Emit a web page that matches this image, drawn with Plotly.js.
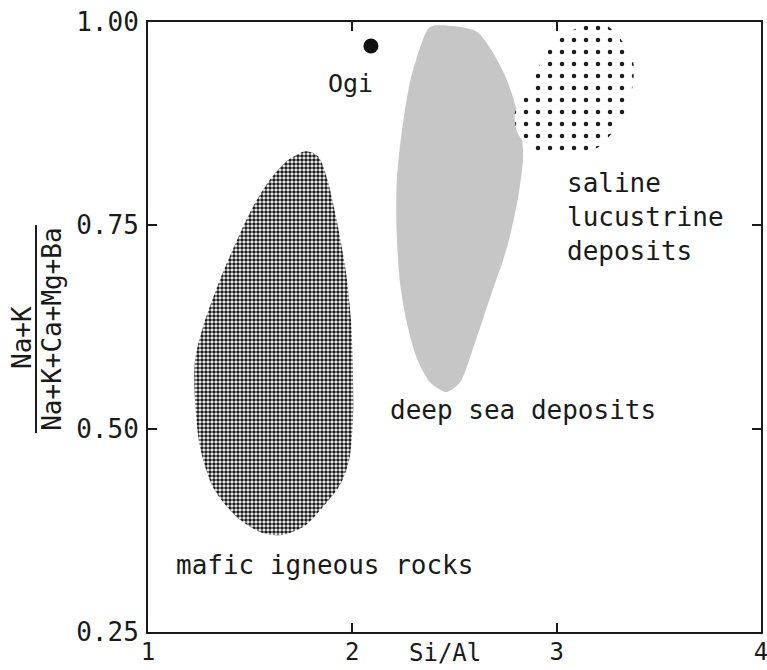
<!DOCTYPE html>
<html>
<head>
<meta charset="utf-8">
<script src="https://cdn.plot.ly/plotly-3.0.1.min.js"></script>
<style>html,body{margin:0;padding:0;background:#fff;}#chart{width:767px;height:670px;}</style>
</head>
<body>
<div id="chart"></div>
<script>
// Region outlines (Si/Al, (Na+K)/(Na+K+Ca+Mg+Ba))
var maficX = [1.773,1.832,1.876,1.925,1.969,1.994,2.003,2.003,1.984,1.940,1.857,1.759,1.646,1.548,1.436,1.318,1.255,1.230,1.230,1.269,1.352,1.436,1.514,1.597,1.680];
var maficY = [0.841,0.835,0.808,0.754,0.692,0.631,0.570,0.511,0.461,0.431,0.404,0.379,0.369,0.373,0.391,0.428,0.477,0.535,0.584,0.625,0.683,0.732,0.773,0.806,0.829];

var deepX = [2.380,2.493,2.609,2.674,2.738,2.787,2.821,2.836,2.811,2.756,2.674,2.591,2.527,2.462,2.429,2.380,2.315,2.266,2.233,2.217,2.217,2.242,2.282,2.331];
var deepY = [0.994,0.995,0.988,0.968,0.939,0.907,0.873,0.836,0.784,0.722,0.661,0.599,0.557,0.545,0.548,0.557,0.587,0.631,0.680,0.742,0.803,0.865,0.926,0.968];

var salineX = [3.115,3.188,3.247,3.310,3.374,3.374,3.345,3.276,3.198,3.129,3.051,2.953,2.870,2.806,2.796,2.836,2.884,2.933,2.982,3.051];
var salineY = [0.994,0.996,0.995,0.980,0.951,0.926,0.894,0.865,0.845,0.839,0.834,0.836,0.845,0.865,0.889,0.907,0.926,0.956,0.972,0.986];

var ogiX = [2.091];
var ogiY = [0.9705];

var xTicks = [1, 2, 3, 4];
var yTicks = [0.25, 0.50, 0.75, 1.00];
var yTickLabels = ["0.25", "0.50", "0.75", "1.00"];

var FONT = "DejaVu Sans Mono, monospace";
var INK = "#1a1a1a";

function closed(a){ return a.concat([a[0]]); }

var traces = [
  {
    x: closed(maficX), y: closed(maficY), type: "scatter", mode: "lines",
    fill: "toself", line: {width: 0, color: INK, shape: "spline", smoothing: 0.8},
    fillcolor: "rgba(0,0,0,0)",
    fillpattern: {shape: ".", size: 4, solidity: 0.62, fgcolor: "#1c1c1c", bgcolor: "#ffffff"},
    hoverinfo: "skip", showlegend: false
  },
  {
    x: closed(deepX), y: closed(deepY), type: "scatter", mode: "lines",
    fill: "toself", line: {width: 0, color: "#c4c4c4", shape: "spline", smoothing: 0.8},
    fillcolor: "#c6c6c6",
    hoverinfo: "skip", showlegend: false
  },
  {
    x: closed(salineX), y: closed(salineY), type: "scatter", mode: "lines",
    fill: "toself", line: {width: 0, color: INK, shape: "spline", smoothing: 0.8},
    fillcolor: "rgba(0,0,0,0)",
    fillpattern: {shape: ".", size: 12, solidity: 0.11, fgcolor: "#1c1c1c", bgcolor: "#ffffff"},
    hoverinfo: "skip", showlegend: false
  },
  {
    x: ogiX, y: ogiY, type: "scatter", mode: "markers",
    marker: {size: 15, color: "#111"},
    hoverinfo: "skip", showlegend: false
  }
];

var layout = {
  width: 767, height: 670,
  margin: {l: 148, r: 6, t: 22, b: 38},
  paper_bgcolor: "#ffffff", plot_bgcolor: "#ffffff",
  font: {family: FONT, size: 26, color: INK},
  showlegend: false,
  xaxis: {
    range: [1, 4], tickvals: xTicks, ticktext: xTicks.map(String),
    showgrid: false, zeroline: false,
    showline: true, linecolor: INK, linewidth: 2, mirror: "ticks",
    ticks: "inside", ticklen: 9, tickwidth: 2, tickcolor: INK,
    ticklabelstandoff: -3, ticklabeloverflow: "allow",
    tickfont: {family: FONT, size: 24, color: INK}
  },
  yaxis: {
    range: [0.25, 1.0], tickvals: yTicks, ticktext: yTickLabels,
    showgrid: false, zeroline: false,
    showline: true, linecolor: INK, linewidth: 2, mirror: "ticks",
    ticks: "inside", ticklen: 9, tickwidth: 2, tickcolor: INK,
    ticklabelstandoff: 2, ticklabeloverflow: "allow",
    tickfont: {family: FONT, size: 26, color: INK}
  },
  annotations: [
    {x: 1.989, y: 0.925, xref: "x", yref: "y", text: "Ogi", showarrow: false,
     font: {family: FONT, size: 25, color: INK}, xanchor: "center", yanchor: "middle"},
    {x: 3.041, y: 0.760, xref: "x", yref: "y", text: "saline<br>lucustrine<br>deposits", showarrow: false,
     align: "left", font: {family: FONT, size: 26, color: INK}, xanchor: "left", yanchor: "middle"},
    {x: 2.833, y: 0.523, xref: "x", yref: "y", text: "deep sea deposits", showarrow: false,
     font: {family: FONT, size: 26, color: INK}, xanchor: "center", yanchor: "middle"},
    {x: 1.866, y: 0.332, xref: "x", yref: "y", text: "mafic igneous rocks", showarrow: false,
     font: {family: FONT, size: 26, color: INK}, xanchor: "center", yanchor: "middle"},
    {x: 2.454, y: -0.034, xref: "x", yref: "paper", text: "Si/Al", showarrow: false,
     font: {family: FONT, size: 24, color: INK}, xanchor: "center", yanchor: "middle"},
    {x: -0.2055, y: 0.482, xref: "paper", yref: "paper", text: "Na+K", showarrow: false, textangle: -90,
     font: {family: FONT, size: 26, color: INK}, xanchor: "center", yanchor: "middle"},
    {x: -0.1566, y: 0.497, xref: "paper", yref: "paper", text: "Na+K+Ca+Mg+Ba", showarrow: false, textangle: -90,
     font: {family: FONT, size: 26, color: INK}, xanchor: "center", yanchor: "middle"}
  ],
  shapes: [
    {type: "line", xref: "paper", yref: "paper", x0: -0.1827, x1: -0.1827, y0: 0.326, y1: 0.667,
     line: {color: INK, width: 2}}
  ]
};

Plotly.newPlot("chart", traces, layout, {staticPlot: true, displayModeBar: false});
</script>
</body>
</html>
